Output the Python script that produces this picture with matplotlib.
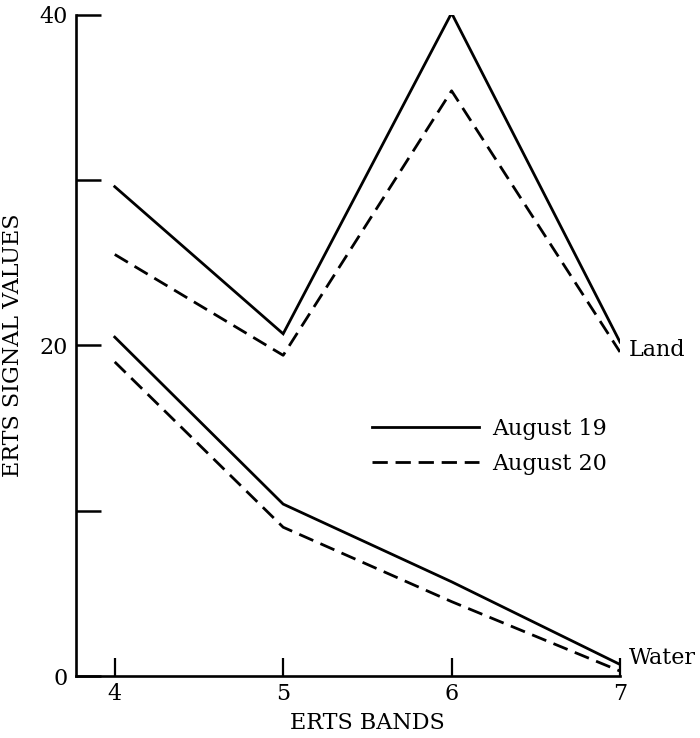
import matplotlib
matplotlib.use("Agg")
import matplotlib.pyplot as plt
from matplotlib.lines import Line2D

plt.rcParams['font.family'] = 'DejaVu Serif'
plt.rcParams['font.size'] = 16

# values
bands = [4, 5, 6, 7]
land_aug19 = [29.6, 20.7, 40.1, 20.2]
land_aug20 = [25.5, 19.4, 35.4, 19.6]
water_aug19 = [20.5, 10.4, 5.7, 0.7]
water_aug20 = [19.0, 9.0, 4.5, 0.3]

y_ticks = [0, 10, 20, 30, 40]
y_ticklabels = ['0', '', '20', '', '40']

LW = 2.0
DASH = (0, (5.5, 2.8))

fig = plt.figure(figsize=(7.0, 7.38), dpi=100)
ax = fig.add_axes([0.1086, 0.084, 0.7771, 0.896])

ax.plot(bands, land_aug19, color='black', lw=LW, solid_joinstyle='miter')
ax.plot(bands, land_aug20, color='black', lw=LW, linestyle=DASH)
ax.plot(bands, water_aug19, color='black', lw=LW, solid_joinstyle='miter')
ax.plot(bands, water_aug20, color='black', lw=LW, linestyle=DASH)

ax.set_xlim(3.77, 7)
ax.set_ylim(0, 40)

for side in ['top', 'right']:
    ax.spines[side].set_visible(False)
for side in ['left', 'bottom']:
    ax.spines[side].set_linewidth(1.9)

ax.set_xticks(bands)
ax.set_yticks(y_ticks)
ax.set_yticklabels(y_ticklabels)
ax.tick_params(axis='y', direction='in', length=18, width=1.8, pad=6)
ax.tick_params(axis='x', direction='in', length=13, width=1.6, pad=5)

ax.set_xlabel('ERTS BANDS', fontsize=16)
ax.xaxis.set_label_coords(0.536, -0.055)
ax.set_ylabel('ERTS SIGNAL VALUES', fontsize=16)
ax.yaxis.set_label_coords(-0.095, 0.5)

# curve labels at right end
ax.text(7.05, 19.7, 'Land', ha='left', va='center', clip_on=False)
ax.text(7.05, 1.1, 'Water', ha='left', va='center', clip_on=False)

handles = [Line2D([], [], color='black', lw=LW),
           Line2D([], [], color='black', lw=LW, linestyle=DASH)]
ax.legend(handles, ['August 19', 'August 20'], loc='center left',
          bbox_to_anchor=(5.53, 13.9), bbox_transform=ax.transData,
          frameon=False, handlelength=4.8, handletextpad=0.6,
          labelspacing=0.6, borderpad=0, borderaxespad=0)

fig.savefig('out.png', dpi=100)
